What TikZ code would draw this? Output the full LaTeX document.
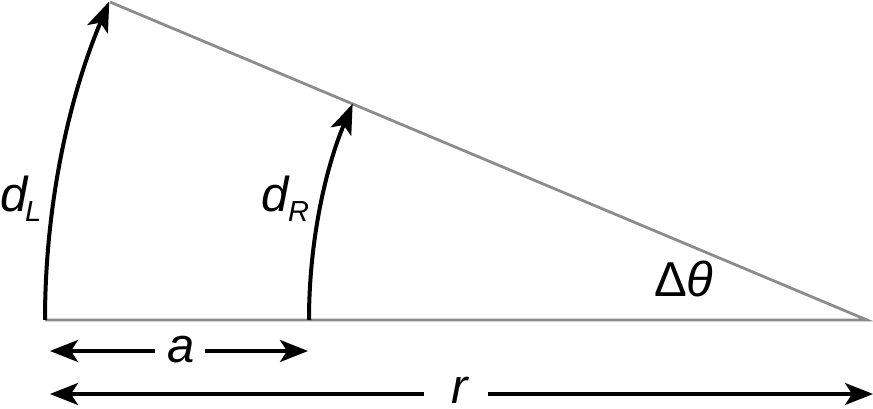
\documentclass[tikz,border=0pt]{standalone}
\usepackage{fontspec}
\setmainfont{Liberation Sans}
\usetikzlibrary{arrows.meta}
\begin{document}
\begin{tikzpicture}[x=1pt,y=1pt,
  guide/.style={draw=black!45, line width=2.8pt},
  arcarrow/.style={draw=black, line width=4pt, -{Stealth[length=30pt,width=22pt,inset=7pt]}},
  dimarrow/.style={draw=black, line width=3.6pt, -{Stealth[length=28pt,width=22pt,inset=7pt]}},
  lbl/.style={inner sep=0pt, anchor=base west, font=\fontsize{49}{58}\selectfont},
  sub/.style={inner sep=0pt, anchor=base west, font=\fontsize{29}{34}\selectfont\itshape}]
\useasboundingbox (0,0) rectangle (873,409);
% geometry
\coordinate (apex) at (867,89);
\coordinate (top) at (110,407);
\coordinate (bl) at (45,89);
\coordinate (br) at (309,89);
\draw[guide] (bl) -- (apex) -- (top);
% arcs
\draw[arcarrow] (bl) arc[start angle=180, end angle=157.2, radius=822];
\draw[arcarrow] (br) arc[start angle=180, end angle=157.2, radius=558];
% labels
\node[lbl] (dL) at (0,197) {\itshape d};
\node[sub] (dLs) at (25,187) {L};
\node[lbl] (dR) at (261,197) {\itshape d};
\node[sub] (dRs) at (288,187) {R};
\node[lbl] (dth) at (654,112) {Δ\textit{θ}};
% a dimension
\node[lbl] (alab) at (167,46) {\itshape a};
\coordinate (aL1) at (155,58);
\coordinate (aL2) at (205,58);
\coordinate (aE1) at (50,58);
\coordinate (aE2) at (308,58);
\draw[dimarrow] (aL1) -- (aE1);
\draw[dimarrow] (aL2) -- (aE2);
% r dimension
\node[lbl] (rlab) at (451,5) {\itshape r};
\coordinate (rL1) at (424,15);
\coordinate (rL2) at (488,15);
\coordinate (rE1) at (50,15);
\coordinate (rE2) at (873,15);
\draw[dimarrow] (rL1) -- (rE1);
\draw[dimarrow] (rL2) -- (rE2);
\end{tikzpicture}
\end{document}
